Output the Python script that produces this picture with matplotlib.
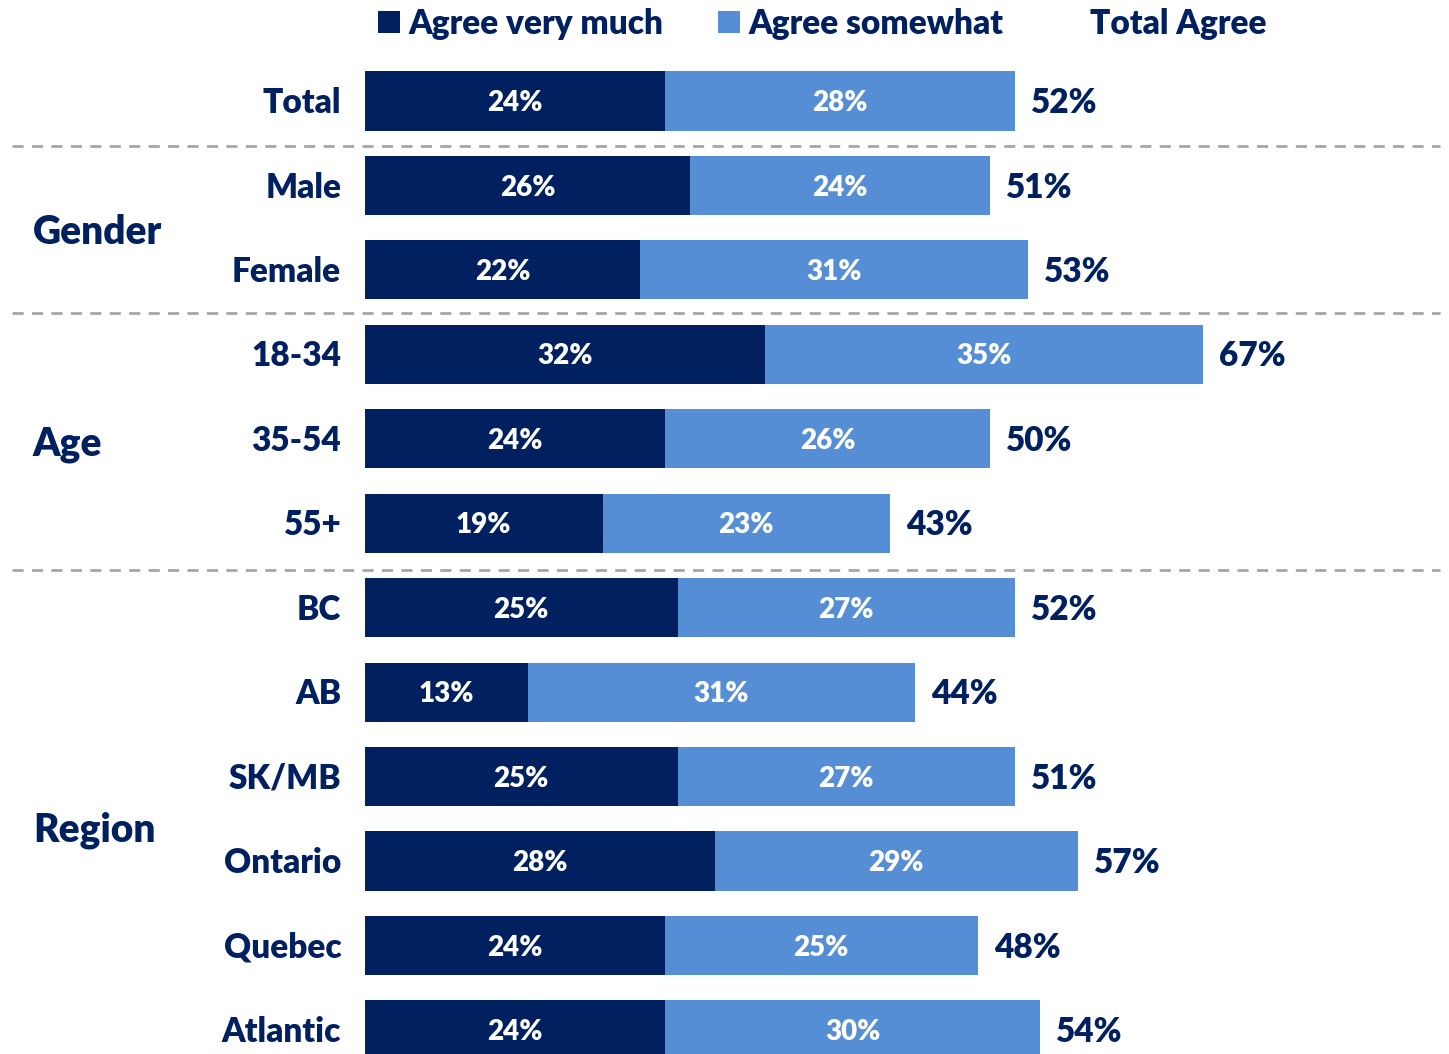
import matplotlib
matplotlib.use("Agg")
import matplotlib.pyplot as plt
from matplotlib.lines import Line2D
from matplotlib.patches import Rectangle
import matplotlib.transforms as mtransforms

categories = ["Total", "Male", "Female", "18-34", "35-54", "55+",
              "BC", "AB", "SK/MB", "Ontario", "Quebec", "Atlantic"]
agree_very_much = [24, 26, 22, 32, 24, 19, 25, 13, 25, 28, 24, 24]
agree_somewhat = [28, 24, 31, 35, 26, 23, 27, 31, 27, 29, 25, 30]
total_agree = [52, 51, 53, 67, 50, 43, 52, 44, 51, 57, 48, 54]
groups = [("Gender", 1.56), ("Age", 4.07), ("Region", 8.63)]
separators = [0.533, 2.51, 5.55]

DARK = "#002060"
LIGHT = "#558ED5"
TEXT = "#002060"
FONT = "Lato"
WEIGHT = "heavy"

W, H = 1449, 1054
fig = plt.figure(figsize=(W / 100, H / 100), dpi=100)
px_per_pct = 12.5
x0 = 365
row_h = 84.45
y_first = 101
ax = fig.add_axes([x0 / W, 0, 1 - x0 / W, 1])
ax.set_xlim(0, (W - x0) / px_per_pct)
ax.set_ylim((H - y_first) / row_h, -y_first / row_h)
ax.axis("off")

ys = list(range(len(categories)))
bar_h = 0.70
ax.barh(ys, agree_very_much, height=bar_h, color=DARK, edgecolor="none")
ax.barh(ys, agree_somewhat, left=agree_very_much, height=bar_h, color=LIGHT, edgecolor="none")

dy = 0.025
for y, a, b, t, cat in zip(ys, agree_very_much, agree_somewhat, total_agree, categories):
    ax.text(a / 2, y + dy, f"{a}%", ha="center", va="center", color="white",
            fontsize=20, fontweight=WEIGHT, family=FONT)
    ax.text(a + b / 2, y + dy, f"{b}%", ha="center", va="center", color="white",
            fontsize=20, fontweight=WEIGHT, family=FONT)
    ax.text(a + b + 1.3, y + dy, f"{t}%", ha="left", va="center", color=TEXT,
            fontsize=24, fontweight=WEIGHT, family=FONT)
    ax.text(-1.9, y + dy, cat, ha="right", va="center", color=TEXT,
            fontsize=24, fontweight=WEIGHT, family=FONT, clip_on=False)

blend = mtransforms.blended_transform_factory(fig.transFigure, ax.transData)
for name, yy in groups:
    fig.text(33 / W, yy, name, transform=blend, ha="left", va="center", color=TEXT,
             fontsize=28, fontweight=WEIGHT, family=FONT)

for s in separators:
    fig.add_artist(Line2D([12 / W, 1440 / W], [s, s], transform=blend, color="#A6A6A6",
                          linewidth=2, linestyle=(0, (4, 3))))

# legend
ly = 1 - 22 / H
fig.add_artist(Rectangle((378 / W, ly - 11 / H), 22 / W, 22 / H, transform=fig.transFigure,
                         facecolor=DARK, edgecolor="none"))
fig.text(408 / W, ly - 2 / H, "Agree very much", ha="left", va="center", color=TEXT,
         fontsize=24, fontweight=WEIGHT, family=FONT)
fig.add_artist(Rectangle((718 / W, ly - 11 / H), 22 / W, 22 / H, transform=fig.transFigure,
                         facecolor=LIGHT, edgecolor="none"))
fig.text(748 / W, ly - 2 / H, "Agree somewhat", ha="left", va="center", color=TEXT,
         fontsize=24, fontweight=WEIGHT, family=FONT)
fig.text(1090 / W, ly - 2 / H, "Total Agree", ha="left", va="center", color=TEXT,
         fontsize=24, fontweight=WEIGHT, family=FONT)

fig.savefig("out.png", dpi=100)
